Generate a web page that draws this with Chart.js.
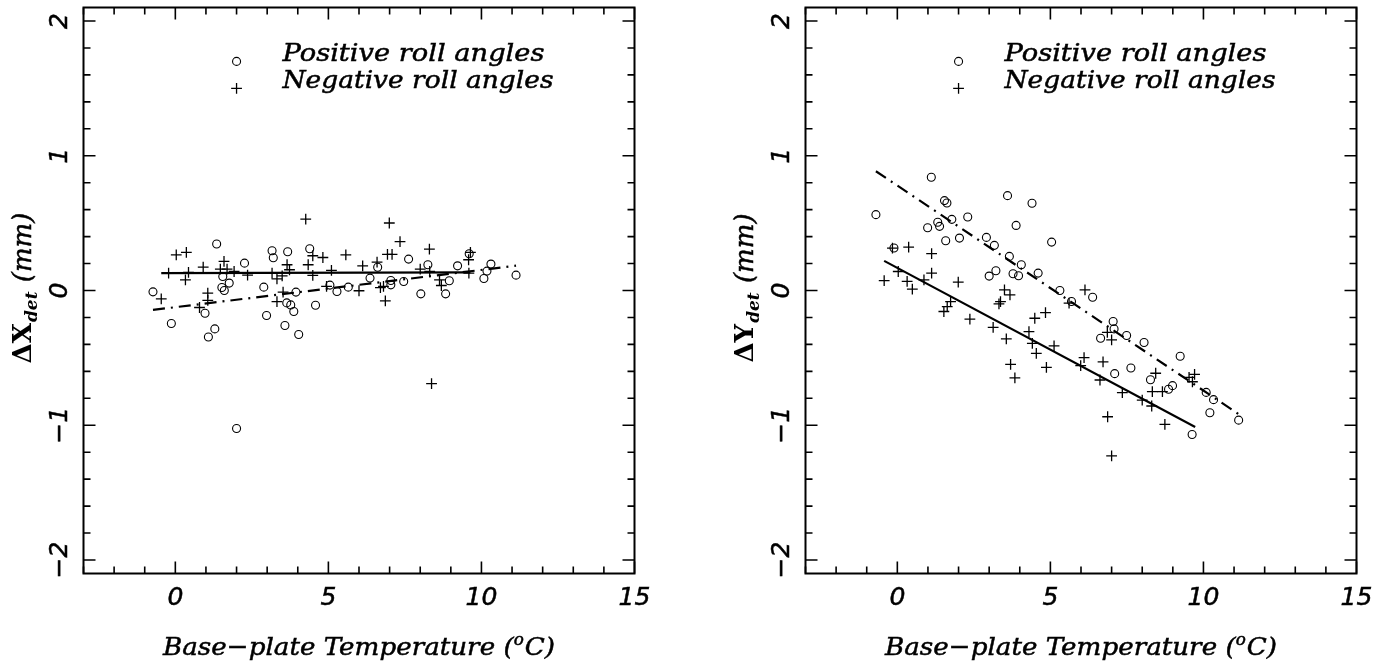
<!DOCTYPE html>
<html><head><meta charset="utf-8">
<script src="https://cdn.jsdelivr.net/npm/chart.js@4.4.0/dist/chart.umd.min.js"></script>
<style>
html,body{margin:0;padding:0;background:#fff;overflow:hidden;width:1391px;height:666px;}
#cL{position:absolute;left:0;top:0;}
#cR{position:absolute;left:722px;top:0;}
</style></head><body>
<canvas id="cL" width="700" height="666"></canvas>
<canvas id="cR" width="669" height="666"></canvas>
<script>
// ---- axis ticks ----
const xTickValues = [0, 5, 10, 15];
const xTickLabels = ['0', '5', '10', '15'];
const yTickValues = [-2, -1, 0, 1, 2];
const yTickLabels = ['\u22122', '\u22121', '0', '1', '2'];
const xTitleParts = ['Base\u2212plate Temperature (', 'o', 'C)'];
const legendLabels = ['Positive roll angles', 'Negative roll angles'];

// ---- legend symbol positions (data coords) ----
const legendX = [2];
const legendPosY = [1.7];
const legendNegY = [1.5];
const legendTextX = 3.5;

// ---- left panel: ΔX_det ----
const leftPosX = [-0.73,-0.13,1.35,2.26,1.55,1.52,1.60,1.76,0.97,1.08,1.29,2.00,2.89,2.98,3.16,3.20,3.67,3.58,3.64,3.77,3.87,3.94,4.03,4.39,4.58,5.05,5.28,5.65,6.36,6.61,7.04,7.04,7.46,7.62,8.02,8.25,8.83,8.95,9.22,9.60,10.08,10.18,10.31,11.13];
const leftPosY = [-0.01,-0.245,0.345,0.203,0.104,0.022,0.0,0.055,-0.169,-0.345,-0.285,-1.024,0.025,-0.186,0.295,0.243,0.287,-0.26,-0.092,-0.107,-0.156,-0.012,-0.327,0.31,-0.109,0.04,-0.007,0.025,0.092,0.173,0.074,0.042,0.067,0.233,-0.025,0.191,-0.025,0.072,0.183,0.273,0.089,0.144,0.196,0.114];
const leftNegX = [-0.46,-0.22,0.03,0.36,0.43,0.33,0.91,1.06,1.06,0.79,1.59,1.47,1.69,1.92,2.36,3.16,3.32,3.49,3.65,3.73,3.52,3.32,4.26,4.34,4.49,4.82,4.49,5.10,4.94,5.57,6.12,6.00,6.59,6.70,6.80,6.86,6.99,6.93,7.08,7.34,8.00,8.30,8.31,8.63,8.69,8.37,9.64,9.58,9.59];
const leftNegY = [-0.062,0.129,0.265,0.283,0.134,0.079,0.173,-0.020,-0.074,-0.126,0.216,0.159,0.159,0.141,0.114,0.129,0.087,0.109,0.191,0.154,-0.012,-0.082,0.530,0.191,0.258,0.245,0.112,0.149,0.030,0.265,0.183,-0.002,0.211,0.022,0.030,-0.077,0.501,0.268,0.268,0.362,0.159,0.307,0.141,0.079,0.037,-0.691,0.283,0.228,0.129];
const leftNegFitX = [-0.46, 9.64];
const leftNegFitY = [0.129, 0.134];
const leftPosFitX = [-0.73, 11.13];
const leftPosFitY = [-0.144, 0.184];

// ---- right panel: ΔY_det ----
const rightPosX = [-0.70,1.11,1.54,1.62,0.99,1.32,1.38,1.78,2.30,1.58,2.03,-0.11,2.91,3.17,3.60,4.40,3.88,3.66,4.05,3.78,3.96,3.00,3.22,4.60,5.04,5.31,5.69,6.38,7.05,7.08,6.64,7.49,8.06,9.24,7.10,7.63,8.27,8.86,8.99,10.09,10.33,10.21,11.15,9.63];
const rightPosY = [0.563,0.840,0.667,0.649,0.466,0.506,0.476,0.528,0.545,0.369,0.389,0.315,0.394,0.335,0.704,0.647,0.483,0.253,0.191,0.124,0.109,0.107,0.146,0.129,0.359,0.0,-0.082,-0.05,-0.23,-0.285,-0.354,-0.334,-0.386,-0.488,-0.617,-0.575,-0.662,-0.733,-0.706,-0.756,-0.81,-0.907,-0.962,-1.068];
const rightNegX = [-0.43,-0.16,0.37,1.12,0.03,0.32,0.49,0.87,1.12,1.99,1.52,1.63,1.74,2.37,3.13,3.32,3.37,3.50,3.68,3.56,3.70,3.84,4.30,4.41,4.54,4.49,4.84,4.87,5.12,6.13,5.61,6.86,7.00,6.10,5.99,6.72,6.62,7.35,8.00,8.31,8.33,8.44,8.66,6.87,8.74,7.00,9.64,9.71,9.53];
const rightNegY = [0.074,0.315,0.322,0.273,0.141,0.067,0.01,0.079,0.129,0.062,-0.156,-0.119,-0.082,-0.213,-0.273,-0.099,-0.082,0.005,-0.032,-0.359,-0.548,-0.649,-0.305,-0.392,-0.466,-0.206,-0.164,-0.57,-0.411,0.005,-0.094,-0.31,-0.367,-0.498,-0.557,-0.53,-0.664,-0.758,-0.813,-0.857,-0.751,-0.614,-0.751,-0.937,-0.994,-1.227,-0.677,-0.622,-0.644];
const rightNegFitX = [-0.43, 9.73];
const rightNegFitY = [0.22, -1.013];
const rightPosFitX = [-0.70, 11.16];
const rightPosFitY = [0.885, -0.919];

const pts = (xs, ys) => xs.map((x, i) => ({ x: x, y: ys[i] }));

const TICK_FONT = 'italic 25px "DejaVu Sans"';
const LABEL_FONT = 'italic 25px "DejaVu Serif"';
const SUP_FONT = 'italic 16px "DejaVu Serif"';

function boldFill(ctx, text, x, y) {
  ctx.fillText(text, x, y);
  ctx.strokeText(text, x, y);
}

// draw text stretched horizontally to a target width
function fitText(ctx, text, x, y, targetW, align) {
  const w = ctx.measureText(text).width;
  const k = targetW / w;
  ctx.save();
  ctx.translate(x, y);
  ctx.scale(k, 1);
  ctx.textAlign = 'left';
  const x0 = align === 'center' ? -w / 2 : 0;
  boldFill(ctx, text, x0, 0);
  ctx.restore();
}

function drawXTitle(ctx, cx, y, targetW) {
  ctx.font = LABEL_FONT; const w1 = ctx.measureText(xTitleParts[0]).width;
  ctx.font = SUP_FONT; const w2 = ctx.measureText(xTitleParts[1]).width;
  ctx.font = LABEL_FONT; const w3 = ctx.measureText(xTitleParts[2]).width;
  const tot = w1 + w2 + w3 + 1;
  const k = targetW / tot;
  ctx.save();
  ctx.translate(cx, y);
  ctx.scale(k, 1);
  ctx.textAlign = 'left';
  let sx = -tot / 2;
  ctx.font = LABEL_FONT; boldFill(ctx, xTitleParts[0], sx, 0); sx += w1;
  ctx.font = SUP_FONT; boldFill(ctx, xTitleParts[1], sx, -10); sx += w2 + 1;
  ctx.font = LABEL_FONT; boldFill(ctx, xTitleParts[2], sx, 0);
  ctx.restore();
}

function framePlugin(letter) {
  return {
    id: 'frame' + letter,
    afterDraw(chart) {
      const ctx = chart.ctx;
      const a = chart.chartArea;
      const xs = chart.scales.x, ys = chart.scales.y;
      ctx.save();
      ctx.strokeStyle = '#000';
      ctx.fillStyle = '#000';
      ctx.lineWidth = 2;
      ctx.strokeRect(a.left, a.top, a.right - a.left, a.bottom - a.top);
      ctx.lineWidth = 1.6;
      for (let v = xs.min; v <= xs.max + 1e-9; v += 1) {
        const p = xs.getPixelForValue(v);
        const major = Math.abs(v % 5) < 1e-9;
        const len = major ? 12 : 7;
        ctx.beginPath();
        ctx.moveTo(p, a.bottom); ctx.lineTo(p, a.bottom - len);
        ctx.moveTo(p, a.top); ctx.lineTo(p, a.top + len);
        ctx.stroke();
      }
      for (let k = -10; k <= 10; k++) {
        const v = k * 0.2;
        const p = ys.getPixelForValue(v);
        const major = k % 5 === 0;
        const len = major ? 12 : 7;
        ctx.beginPath();
        ctx.moveTo(a.left, p); ctx.lineTo(a.left + len, p);
        ctx.moveTo(a.right, p); ctx.lineTo(a.right - len, p);
        ctx.stroke();
      }
      ctx.lineWidth = 0.5;
      // x tick labels
      ctx.font = TICK_FONT;
      ctx.textAlign = 'center';
      ctx.textBaseline = 'alphabetic';
      xTickValues.forEach((v, i) => {
        boldFill(ctx, xTickLabels[i], xs.getPixelForValue(v), 605);
      });
      // y tick labels (rotated)
      yTickValues.forEach((v, i) => {
        ctx.save();
        ctx.translate(67, ys.getPixelForValue(v));
        ctx.rotate(-Math.PI / 2);
        boldFill(ctx, yTickLabels[i], 0, 0);
        ctx.restore();
      });
      // x title
      drawXTitle(ctx, (a.left + a.right) / 2, 655, 392);
      // legend text
      ctx.font = LABEL_FONT;
      fitText(ctx, legendLabels[0], xs.getPixelForValue(legendTextX), ys.getPixelForValue(legendPosY[0]), 262, 'left');
      fitText(ctx, legendLabels[1], xs.getPixelForValue(legendTextX), ys.getPixelForValue(legendNegY[0]), 271, 'left');
      // y title
      ctx.save();
      ctx.translate(31, 288);
      ctx.rotate(-Math.PI / 2);
      const f1 = 'bold 26px "DejaVu Serif"', f2 = 'bold italic 17px "DejaVu Serif"', f3 = 'italic 26px "DejaVu Serif"';
      const t1 = '\u0394' + letter, t2 = 'det', t3 = ' (mm)';
      ctx.font = f1; const w1 = ctx.measureText(t1).width;
      ctx.font = f2; const w2 = ctx.measureText(t2).width;
      ctx.font = f3; const w3 = ctx.measureText(t3).width;
      let sx = -(w1 + w2 + w3 + 2) / 2;
      ctx.textAlign = 'left';
      ctx.font = f1; ctx.fillText(t1, sx, 0); sx += w1 + 1;
      ctx.font = f2; ctx.fillText(t2, sx, 6); sx += w2 + 1;
      ctx.font = f3; boldFill(ctx, t3, sx, 0);
      ctx.restore();
      ctx.restore();
    }
  };
}

function makeChart(id, W, letter, posX, posY, negX, negY, pfx, pfy, nfx, nfy) {
  const circle = { pointStyle: 'circle', pointRadius: 4, pointBorderWidth: 1.1, pointBorderColor: '#000', pointBackgroundColor: 'rgba(0,0,0,0)', showLine: false };
  const cross = { pointStyle: 'cross', pointRadius: 5.4, pointBorderWidth: 1.3, pointBorderColor: '#000', pointBackgroundColor: '#000', showLine: false };
  return new Chart(document.getElementById(id), {
    type: 'scatter',
    data: {
      datasets: [
        Object.assign({ label: legendLabels[0], data: pts(posX, posY) }, circle),
        Object.assign({ label: legendLabels[1], data: pts(negX, negY) }, cross),
        Object.assign({ label: 'legPos', data: pts(legendX, legendPosY) }, circle),
        Object.assign({ label: 'legNeg', data: pts(legendX, legendNegY) }, cross),
        { label: 'fitPos', data: pts(pfx, pfy), showLine: true, pointRadius: 0, borderColor: '#000', borderWidth: 2.2, borderDash: [12, 6, 2, 6] },
        { label: 'fitNeg', data: pts(nfx, nfy), showLine: true, pointRadius: 0, borderColor: '#000', borderWidth: 2.2 }
      ]
    },
    options: {
      responsive: false,
      animation: false,
      devicePixelRatio: 1,
      layout: { padding: { left: 0, top: 7.5, right: W - 634.5, bottom: 0 } },
      plugins: { legend: { display: false }, tooltip: { enabled: false } },
      scales: {
        x: {
          type: 'linear', min: -3, max: 15,
          grid: { display: false, drawTicks: false }, border: { display: false },
          ticks: { display: false },
          afterFit: s => { s.height = 92.5; }
        },
        y: {
          type: 'linear', min: -2.1, max: 2.1,
          grid: { display: false, drawTicks: false }, border: { display: false },
          ticks: { display: false },
          afterFit: s => { s.width = 83.5; }
        }
      }
    },
    plugins: [framePlugin(letter)]
  });
}

makeChart('cL', 700, 'X', leftPosX, leftPosY, leftNegX, leftNegY, leftPosFitX, leftPosFitY, leftNegFitX, leftNegFitY);
makeChart('cR', 669, 'Y', rightPosX, rightPosY, rightNegX, rightNegY, rightPosFitX, rightPosFitY, rightNegFitX, rightNegFitY);
</script>
</body></html>
